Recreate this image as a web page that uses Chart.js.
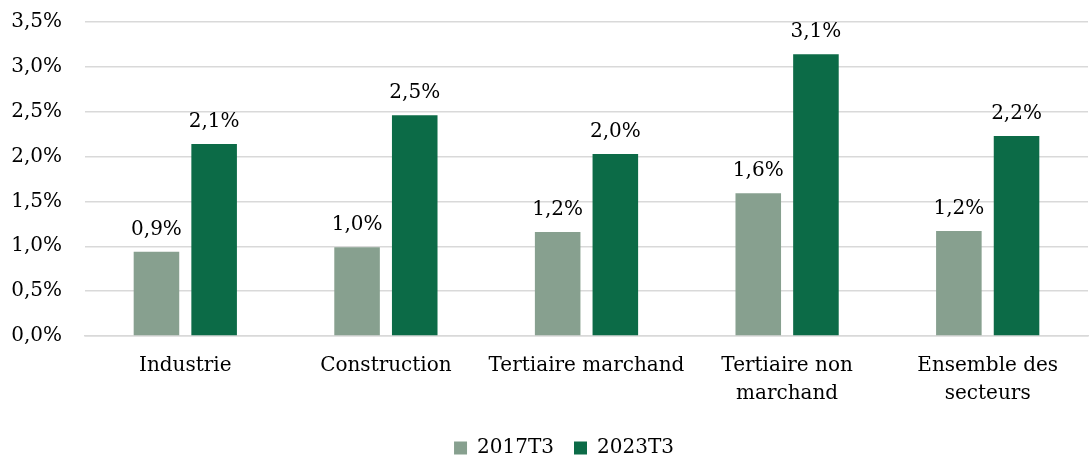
<!DOCTYPE html>
<html>
<head>
<meta charset="utf-8">
<script src="https://cdn.jsdelivr.net/npm/chart.js@4/dist/chart.umd.min.js"></script>
<style>
  html, body { margin: 0; padding: 0; background: #fff; }
  #wrap { width: 1089px; height: 456px; position: relative; }
</style>
</head>
<body>
<div id="wrap"><canvas id="myGraf"></canvas></div>
<script>
// données (en %)
var secteurs = ['Industrie', 'Construction', 'Tertiaire marchand', ['Tertiaire non', 'marchand'], ['Ensemble des', 'secteurs']];
var serie2017T3 = [0.94, 0.99, 1.16, 1.59, 1.17];
var serie2023T3 = [2.14, 2.46, 2.03, 3.14, 2.23];
var yTicks = [0, 0.5, 1, 1.5, 2, 2.5, 3, 3.5];

var police = "'DejaVu Serif', 'Liberation Serif', serif";

function fmt(v) {
    return v.toFixed(1).replace('.', ',') + '%';
}

// étiquettes au-dessus des barres
var etiquettes = {
    id: 'etiquettes',
    afterLayout: function(chart) {
        // légende un peu décalée vers la droite comme sur l'original
        chart.legend.left += 16;
        chart.legend.right += 16;
    },
    afterDatasetsDraw: function(chart) {
        var ctx = chart.ctx;
        ctx.save();
        ctx.font = '20px ' + police;
        ctx.fillStyle = '#000';
        ctx.textAlign = 'center';
        ctx.textBaseline = 'alphabetic';
        chart.data.datasets.forEach(function(ds, i) {
            chart.getDatasetMeta(i).data.forEach(function(bar, j) {
                ctx.fillText(fmt(ds.data[j]), bar.x, bar.y - 17);
            });
        });
        ctx.restore();
    }
};

var ctx = document.getElementById('myGraf').getContext('2d');
var myGraf = new Chart(ctx, {
    type: 'bar',
    data: {
        labels: secteurs,
        datasets: [{
            label: '2017T3',
            data: serie2017T3,
            backgroundColor: '#87a08f'
        }, {
            label: '2023T3',
            data: serie2023T3,
            backgroundColor: '#0c6b47'
        }]
    },
    options: {
        responsive: true,
        maintainAspectRatio: false,
        animation: false,
        layout: { padding: { left: 8, right: 1, top: 22, bottom: -12 } },
        datasets: {
            bar: { categoryPercentage: 0.575, barPercentage: 0.79 }
        },
        plugins: {
            legend: {
                display: true,
                position: 'bottom',
                labels: {
                    font: { family: police, size: 20 },
                    color: '#000',
                    boxWidth: 13,
                    boxHeight: 13,
                    padding: 20
                }
            },
            tooltip: { enabled: false }
        },
        scales: {
            x: {
                afterFit: function(axis) { axis.height = 82; },
                grid: { display: false },
                border: { display: true, color: '#d9d9d9', width: 1.5 },
                ticks: {
                    font: { family: police, size: 20, lineHeight: 1.4 },
                    color: '#000',
                    maxRotation: 0,
                    autoSkip: false,
                    padding: 8
                }
            },
            y: {
                min: 0,
                max: 3.5,
                afterBuildTicks: function(axis) {
                    axis.ticks = yTicks.map(function(v) { return { value: v }; });
                },
                afterFit: function(axis) { axis.width = 77; },
                grid: { color: '#d9d9d9', lineWidth: 1.5, drawTicks: true, tickLength: 23, tickColor: 'rgba(0,0,0,0)' },
                border: { display: false },
                ticks: {
                    font: { family: police, size: 20 },
                    color: '#000',
                    padding: 0,
                    callback: function(v) { return fmt(v); }
                }
            }
        }
    },
    plugins: [etiquettes]
});
</script>
</body>
</html>
